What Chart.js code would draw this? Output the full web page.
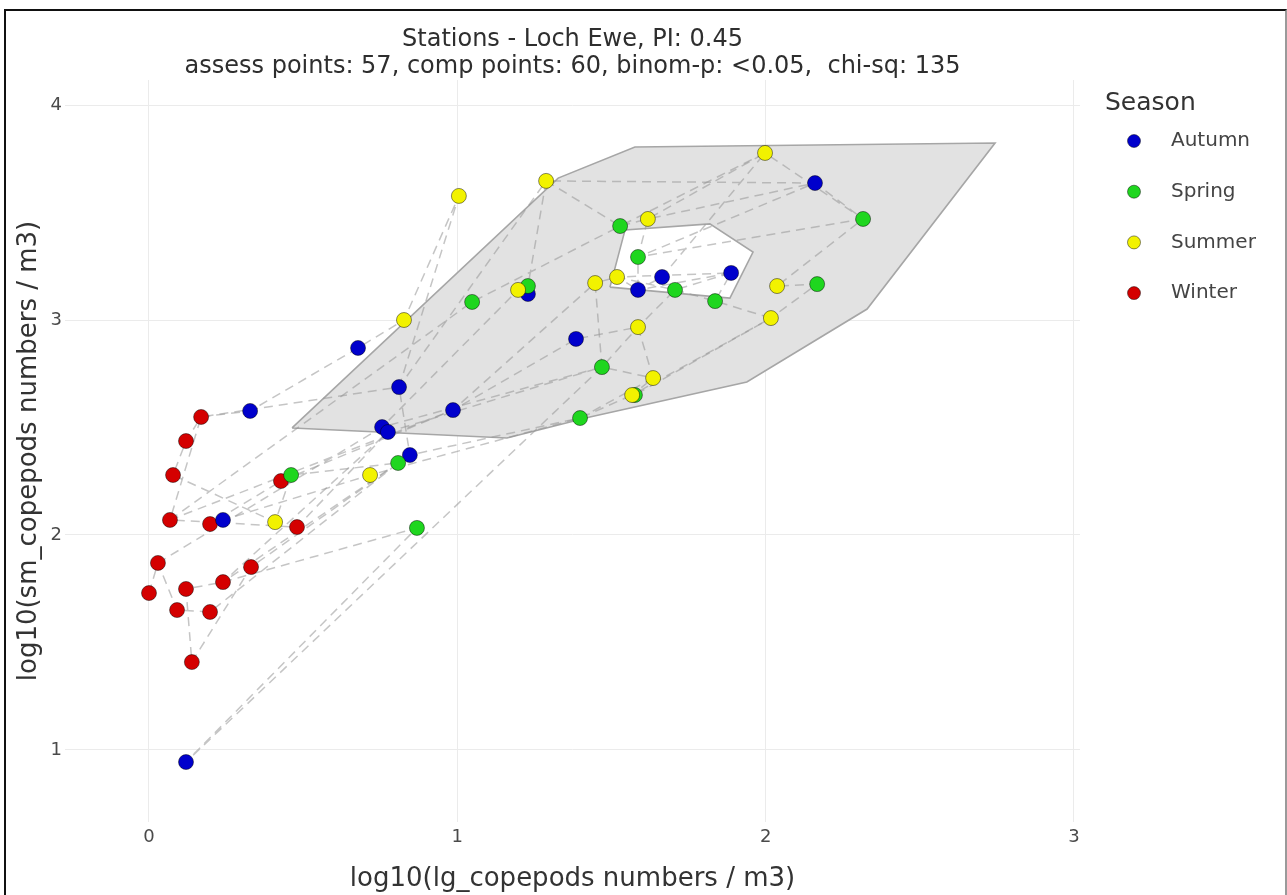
<!DOCTYPE html>
<html>
<head>
<meta charset="utf-8">
<script src="https://cdn.jsdelivr.net/npm/chart.js@4.4.1/dist/chart.umd.min.js"></script>
<style>
  html, body { margin: 0; padding: 0; background: #fff; width: 1287px; height: 895px; overflow: hidden; }
  #wrap { position: relative; width: 1287px; height: 895px; }
  #c { position: absolute; left: 0; top: 0; }
  #frame { position: absolute; left: 4px; top: 9px; width: 1279px; height: 900px;
           border-top: 2px solid #111; border-left: 2px solid #111; border-right: 2px solid #9a9a9a;
           pointer-events: none; }
</style>
</head>
<body>
<div id="wrap">
  <canvas id="c" width="1287" height="895"></canvas>
  <div id="frame"></div>
</div>
<script>
// ---- text ----
const titleLines = ['Stations - Loch Ewe, PI: 0.45',
                    'assess points: 57, comp points: 60, binom-p: <0.05,  chi-sq: 135'];
const xTitle = 'log10(lg_copepods numbers / m3)';
const yTitle = 'log10(sm_copepods numbers / m3)';
const legendTitle = 'Season';
const xTicks = [0, 1, 2, 3];
const yTicks = [1, 2, 3, 4];
const seasons = ['Autumn', 'Spring', 'Summer', 'Winter'];
const seasonColors = ['#0000cc', '#1fd61f', '#f2f200', '#d40000'];

// ---- assessment points, log10 abundance (large, small copepods) ----
const autumnX = [0.120, 0.328, 0.678, 0.811, 0.756, 0.775, 0.846, 0.240, 0.986, 1.229, 1.385, 1.586, 1.664, 1.888, 2.160];
const autumnY = [0.944, 2.577, 2.870, 2.688, 2.502, 2.479, 2.372, 2.070, 2.581, 3.121, 2.912, 3.140, 3.200, 3.219, 3.637];

const springX = [0.461, 0.808, 0.869, 1.048, 1.229, 1.528, 1.586, 1.706, 1.836, 1.469, 1.398, 2.316, 2.167, 1.576];
const springY = [2.279, 2.335, 2.033, 3.084, 3.158, 3.437, 3.293, 3.140, 3.088, 2.781, 2.544, 3.470, 3.167, 2.651];

const summerX = [0.409, 0.717, 0.827, 1.005, 1.288, 1.197, 1.447, 1.518, 1.618, 1.586, 1.635, 1.567, 1.998, 2.037, 2.017];
const summerY = [2.060, 2.279, 3.000, 3.577, 3.647, 3.140, 3.172, 3.200, 3.470, 2.967, 2.730, 2.651, 3.777, 3.158, 3.009];

const winterX = [0.169, 0.120, 0.078, 0.428, 0.068, 0.198, 0.480, 0.331, 0.029, 0.240, 0.120, 0.000, 0.091, 0.198, 0.139];
const winterY = [2.549, 2.437, 2.279, 2.251, 2.070, 2.051, 2.037, 1.851, 1.870, 1.781, 1.749, 1.730, 1.651, 1.642, 1.409];

// sampling sequences joining the points (A = autumn, P = spring, S = summer, W = winter; 1-based)
const trackOrder = ['W12','W9','W13','W14','P2','P1','S1','W3','W2','W1','A2','A3','S3','S4','A4','A7',
                    'W8','W15','W11','W10','P3','A1','P10','S11','S10','A11','A9','W4','W6','A8','S2',
                    'P11','S12','P14','S15','P13','S14','P12','P7','A15','S5','P5','A10','S6','A5','A6',
                    'W7','W5','P4','P6','S9','S13','A13','A12','A14','P9','P8','S8','S7'];
const trackOrder2 = ['W9','A5','P10','S10','P8','A14','S8','A12','P7','S9','A15','P12','S13','P6','S5',
                     'A4','W1','W5','A9','S7','P10','A6','W10','P2','A7','P11','S11','S12','S15','P9'];

// ---- comparison envelope (outer ring) and its gap ----
const envelopeX = [0.464, 1.161, 1.430, 1.939, 2.329, 2.744, 1.576, 1.327];
const envelopeY = [2.498, 2.451, 2.549, 2.712, 3.051, 3.823, 3.805, 3.660];
const gapX = [1.495, 1.544, 1.819, 1.959, 1.884];
const gapY = [3.153, 3.419, 3.447, 3.316, 3.102];

// ---- build datasets ----
const series = { A: [autumnX, autumnY], P: [springX, springY], S: [summerX, summerY], W: [winterX, winterY] };
const toPts = (xs, ys) => xs.map((x, i) => ({ x, y: ys[i] }));
const ring = (xs, ys) => toPts(xs, ys).concat([{ x: xs[0], y: ys[0] }]);
const lookupTrack = order => order.map(code => {
  const [xs, ys] = series[code[0]];
  const i = parseInt(code.slice(1), 10) - 1;
  return { x: xs[i], y: ys[i] };
});

const markerBorder = 'rgba(0,0,0,0.45)';
const pointSet = (label, xs, ys, color, order) => ({
  type: 'scatter', label, data: toPts(xs, ys),
  backgroundColor: color, borderColor: markerBorder, borderWidth: 1,
  pointRadius: 7.5, pointHoverRadius: 7.5, order
});
const trackSet = (label, order) => ({
  type: 'line', label, data: lookupTrack(order), showLine: true, fill: false, tension: 0,
  borderColor: 'rgba(150,150,150,0.55)', borderWidth: 1.5, borderDash: [9, 6],
  pointRadius: 0, pointHoverRadius: 0, order: 10
});

const FONT = '"DejaVu Sans", Verdana, sans-serif';

const decor = {
  id: 'decor',
  afterDraw(chart) {
    const { ctx, chartArea } = chart;
    ctx.save();
    // title
    const cx = (chartArea.left + chartArea.right) / 2;
    ctx.fillStyle = '#2e2e2e';
    ctx.font = '24px ' + FONT;
    ctx.textAlign = 'center';
    ctx.textBaseline = 'middle';
    ctx.fillText(titleLines[0], cx, 40);
    ctx.fillText(titleLines[1], cx, 67);
    // legend
    ctx.textAlign = 'left';
    ctx.fillStyle = '#333';
    ctx.font = '25px ' + FONT;
    ctx.fillText(legendTitle, 1105, 103);
    ctx.font = '20px ' + FONT;
    seasons.forEach((s, i) => {
      const y = 141 + i * 50.7;
      ctx.beginPath();
      ctx.arc(1134, y, 6.5, 0, Math.PI * 2);
      ctx.fillStyle = seasonColors[i];
      ctx.fill();
      ctx.lineWidth = 1;
      ctx.strokeStyle = markerBorder;
      ctx.stroke();
      ctx.fillStyle = '#444';
      ctx.fillText(s, 1171, y);
    });
    ctx.restore();
  }
};

new Chart(document.getElementById('c'), {
  type: 'scatter',
  data: {
    datasets: [
      pointSet(seasons[0], autumnX, autumnY, seasonColors[0], 2),
      pointSet(seasons[1], springX, springY, seasonColors[1], 1),
      pointSet(seasons[2], summerX, summerY, seasonColors[2], 0),
      pointSet(seasons[3], winterX, winterY, seasonColors[3], 3),
      trackSet('track', trackOrder),
      trackSet('track 2', trackOrder2),
      { type: 'line', label: 'gap', data: ring(gapX, gapY), showLine: true, fill: 'shape', tension: 0,
        backgroundColor: '#ffffff', borderColor: '#a6a6a6', borderWidth: 1.6,
        pointRadius: 0, pointHoverRadius: 0, order: 11 },
      { type: 'line', label: 'envelope', data: ring(envelopeX, envelopeY), showLine: true, fill: 'shape', tension: 0,
        backgroundColor: '#e2e2e2', borderColor: '#a6a6a6', borderWidth: 1.6,
        pointRadius: 0, pointHoverRadius: 0, order: 12 }
    ]
  },
  options: {
    responsive: false,
    animation: false,
    devicePixelRatio: 1,
    layout: { padding: { left: 0, right: 207, top: 80, bottom: 0 } },
    plugins: { legend: { display: false }, title: { display: false }, tooltip: { enabled: false } },
    scales: {
      x: {
        type: 'linear', min: -0.2724, max: 3.0195,
        afterBuildTicks: s => { s.ticks = xTicks.map(v => ({ value: v })); },
        afterFit: s => { s.height = 73; },
        grid: { color: '#ebebeb', lineWidth: 1, drawTicks: false },
        border: { display: false },
        ticks: { padding: 5, color: '#4a4a4a', font: { family: FONT, size: 18 } },
        title: { display: true, text: xTitle, color: '#333', font: { family: FONT, size: 26 },
                 padding: { top: 0, bottom: 0 } }
      },
      y: {
        type: 'linear', min: 0.6651, max: 4.1163,
        afterBuildTicks: s => { s.ticks = yTicks.map(v => ({ value: v })); },
        afterFit: s => { s.width = 65; },
        grid: { color: '#ebebeb', lineWidth: 1, drawTicks: false },
        border: { display: false },
        ticks: { padding: 3, color: '#4a4a4a', font: { family: FONT, size: 18 } },
        title: { display: true, text: yTitle, color: '#333', font: { family: FONT, size: 26 },
                 padding: { top: 14, bottom: 0 } }
      }
    }
  },
  plugins: [decor]
});
</script>
</body>
</html>
